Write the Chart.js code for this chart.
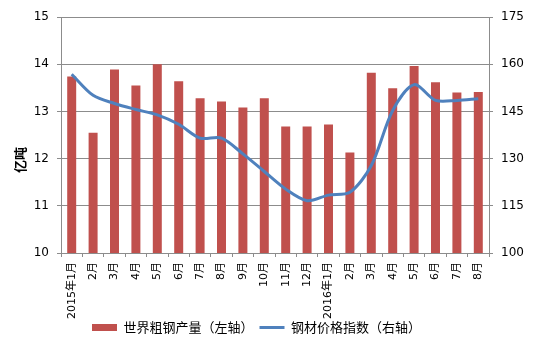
<!DOCTYPE html>
<html>
<head>
<meta charset="utf-8">
<script src="https://cdn.jsdelivr.net/npm/chart.js@4"></script>
<style>
    html, body { margin: 0; padding: 0; background: #fff; }
    #wrap { width: 545px; height: 353px; }
</style>
</head>
<body>
<div id="wrap"><canvas id="steelChart" width="545" height="353"></canvas></div>
<script>
// Month labels (x axis)
const months = ["2015年1月", "2月", "3月", "4月", "5月", "6月", "7月", "8月", "9月", "10月",
    "11月", "12月", "2016年1月", "2月", "3月", "4月", "5月", "6月", "7月", "8月"];

// World crude steel output, 100 million tonnes (left axis)
const steelOutput = [13.74, 12.55, 13.89, 13.55, 14.0, 13.64, 13.28, 13.21, 13.08, 13.28,
    12.68, 12.68, 12.72, 12.13, 13.82, 13.49, 13.96, 13.62, 13.40, 13.41];

// Steel price index (right axis)
const priceIndex = [156.8, 150.1, 147.5, 145.6, 143.9, 140.9, 136.5, 136.5, 131.5, 125.9,
    120.3, 116.6, 118.4, 119.3, 127.8, 145.3, 153.5, 148.5, 148.5, 149.0];

const leftTicks = [10, 11, 12, 13, 14, 15];
const rightTicks = [100, 115, 130, 145, 160, 175];

const seriesNames = ["世界粗钢产量（左轴）", "钢材价格指数（右轴）"];
const leftTitle = "亿吨";

const barColor = "#C0504D";
const lineColor = "#4F81BD";
const gridColor = "#8C8C8C";
const cjk = "'Noto Sans CJK SC', sans-serif";

// left axis title sits a bit below the middle in the original; legend is nudged up/left
const axisTitlePlugin = {
    id: "axisTitle",
    afterLayout(chart) {
        const lg = chart.legend;
        lg.left -= 16;
        lg.right -= 16;
        lg.top -= 8;
        lg.bottom -= 8;
    },
    afterDraw(chart) {
        const area = chart.chartArea;
        const c = chart.ctx;
        c.save();
        c.translate(20, (area.top + area.bottom) / 2 + 25);
        c.rotate(-Math.PI / 2);
        c.fillStyle = "#000";
        c.font = "bold 13px " + cjk;
        c.textAlign = "center";
        c.textBaseline = "middle";
        c.fillText(leftTitle, 0, 0);
        c.restore();
    }
};

const ctx = document.getElementById("steelChart").getContext("2d");

new Chart(ctx, {
    type: "bar",
    data: {
        labels: months,
        datasets: [{
            type: "bar",
            label: seriesNames[0],
            data: steelOutput,
            backgroundColor: barColor,
            yAxisID: "y",
            order: 1,
            categoryPercentage: 1,
            barPercentage: 0.42
        }, {
            type: "line",
            label: seriesNames[1],
            data: priceIndex,
            borderColor: lineColor,
            backgroundColor: lineColor,
            borderWidth: 3,
            pointRadius: 0,
            tension: 0.3,
            yAxisID: "y1",
            order: 0
        }]
    },
    plugins: [axisTitlePlugin],
    options: {
        responsive: false,
        animation: false,
        layout: { padding: { top: 17, right: 0, bottom: 1, left: 0 } },
        plugins: {
            tooltip: { enabled: false },
            legend: {
                position: "bottom",
                labels: {
                    usePointStyle: true,
                    pointStyleWidth: 25,
                    boxWidth: 25,
                    boxHeight: 7,
                    padding: 6,
                    color: "#222",
                    font: { family: cjk, size: 13 },
                    generateLabels: function () {
                        return [{
                            text: seriesNames[0],
                            fillStyle: barColor,
                            strokeStyle: barColor,
                            lineWidth: 0,
                            pointStyle: "rect",
                            datasetIndex: 0
                        }, {
                            text: seriesNames[1],
                            fillStyle: lineColor,
                            strokeStyle: lineColor,
                            lineWidth: 3,
                            pointStyle: "line",
                            datasetIndex: 1
                        }];
                    }
                }
            }
        },
        scales: {
            x: {
                offset: true,
                afterFit: function (scale) { scale.height = 70; },
                grid: {
                    offset: true,
                    drawOnChartArea: false,
                    drawTicks: true,
                    tickLength: 4,
                    color: gridColor
                },
                border: { color: gridColor },
                ticks: {
                    autoSkip: false,
                    minRotation: 90,
                    maxRotation: 90,
                    padding: 5,
                    color: "#000",
                    font: { family: "'DejaVu Sans', 'Noto Sans CJK SC'", size: 11 }
                }
            },
            y: {
                position: "left",
                min: 10,
                max: 15,
                afterFit: function (scale) { scale.width = 61; },
                afterBuildTicks: function (scale) {
                    scale.ticks = leftTicks.map(v => ({ value: v }));
                },
                grid: { color: gridColor, tickLength: 4 },
                border: { color: gridColor },
                ticks: {
                    padding: 8,
                    color: "#000",
                    font: { family: "'DejaVu Sans'", size: 12 }
                }
            },
            y1: {
                position: "right",
                min: 100,
                max: 175,
                afterFit: function (scale) { scale.width = 56; },
                afterBuildTicks: function (scale) {
                    scale.ticks = rightTicks.map(v => ({ value: v }));
                },
                grid: { drawOnChartArea: false, color: gridColor, tickLength: 4 },
                border: { color: gridColor },
                ticks: {
                    padding: 8,
                    color: "#000",
                    font: { family: "'DejaVu Sans'", size: 12 }
                }
            }
        }
    }
});
</script>
</body>
</html>
